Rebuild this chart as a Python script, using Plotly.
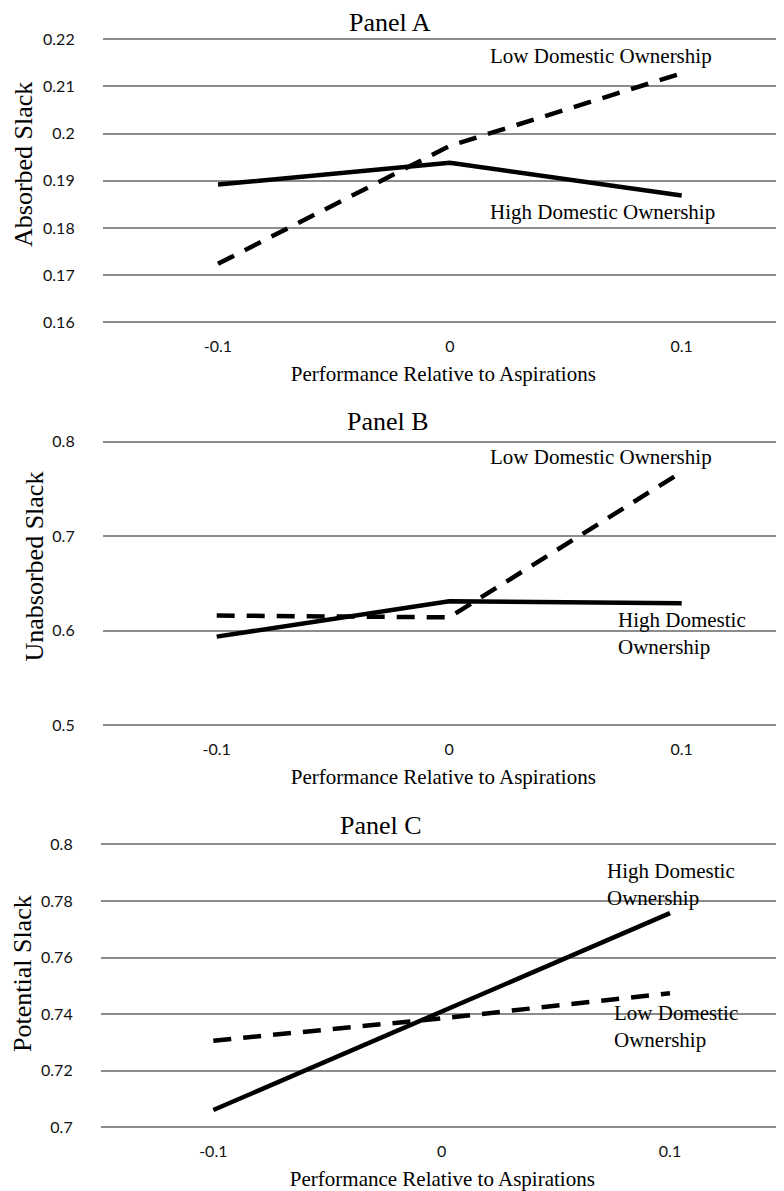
import plotly.graph_objects as go

# The page body has an 8px margin, so the figure is sized to fill the rest of the window
OFF = 8
W, H = 784 - OFF, 1191 - OFF

# ---- data ----
x_vals = [-0.1, 0.0, 0.1]
x_ticktext = ["-0.1", "0", "0.1"]

panel_titles = ["Panel A", "Panel B", "Panel C"]
y_titles = ["Absorbed Slack", "Unabsorbed Slack", "Potential Slack"]
x_title = "Performance Relative to Aspirations"

# Panel A: Absorbed slack
a_high = [0.1892, 0.1938, 0.1869]
a_low = [0.1724, 0.1974, 0.2128]
a_ticks = [0.16, 0.17, 0.18, 0.19, 0.20, 0.21, 0.22]
a_ticktext = ["0.16", "0.17", "0.18", "0.19", "0.2", "0.21", "0.22"]

# Panel B: Unabsorbed slack
b_high = [0.5936, 0.631, 0.629]
b_low = [0.6159, 0.614, 0.768]
b_ticks = [0.5, 0.6, 0.7, 0.8]
b_ticktext = ["0.5", "0.6", "0.7", "0.8"]

# Panel C: Potential slack
c_high = [0.7061, 0.741, 0.7757]
c_low = [0.7306, 0.7385, 0.7474]
c_ticks = [0.70, 0.72, 0.74, 0.76, 0.78, 0.80]
c_ticktext = ["0.7", "0.72", "0.74", "0.76", "0.78", "0.8"]

label_low_one = "Low Domestic Ownership"
label_high_one = "High Domestic Ownership"
label_high_two = "High Domestic<br>Ownership"
label_low_two = "Low Domestic<br>Ownership"

# ---- layout helpers (pixel geometry, in window pixels) ----
SERIF = "Liberation Serif, Times New Roman, serif"
SANS = "Lato, Open Sans, sans-serif"


def ydom(top_px, bot_px, vtop, vbot, pad=3):
    top_px -= OFF
    bot_px -= OFF
    u = (vtop - vbot) / (bot_px - top_px)
    rng = [vbot - pad * u, vtop + pad * u]
    dom = [1 - (bot_px + pad) / H, 1 - (top_px - pad) / H]
    return dom, rng


def xdom(left_px, right_px, x_left_tick_px, x_right_tick_px):
    u = (0.1 - (-0.1)) / (x_right_tick_px - x_left_tick_px)
    rng = [-0.1 - (x_left_tick_px - left_px) * u, 0.1 + (right_px - x_right_tick_px) * u]
    return [(left_px - OFF) / W, min(1.0, (right_px - OFF) / W)], rng


panels = [
    dict(high=a_high, low=a_low, ticks=a_ticks, ticktext=a_ticktext,
         y=ydom(39.3, 322.3, 0.22, 0.16), x=xdom(102.7, 784, 218, 681.7)),
    dict(high=b_high, low=b_low, ticks=b_ticks, ticktext=b_ticktext,
         y=ydom(441.7, 725, 0.8, 0.5), x=xdom(102.7, 784, 216.7, 681.7)),
    dict(high=c_high, low=c_low, ticks=c_ticks, ticktext=c_ticktext,
         y=ydom(844.3, 1127.3, 0.8, 0.7), x=xdom(100.7, 784, 213.3, 670)),
]

fig = go.Figure()
layout = {}
for i, p in enumerate(panels):
    n = "" if i == 0 else str(i + 1)
    xa, ya = "x" + n, "y" + n
    fig.add_trace(go.Scatter(x=x_vals, y=p["high"], mode="lines", xaxis=xa, yaxis=ya,
                             line=dict(color="black", width=4.5), showlegend=False,
                             name="High Domestic Ownership"))
    fig.add_trace(go.Scatter(x=x_vals, y=p["low"], mode="lines", xaxis=xa, yaxis=ya,
                             line=dict(color="black", width=4.5, dash="18px,12px"),
                             showlegend=False, name="Low Domestic Ownership"))
    xd, xr = p["x"]
    yd, yr = p["y"]
    layout["xaxis" + n] = dict(
        domain=xd, range=xr, anchor=ya, tickvals=x_vals, ticktext=x_ticktext,
        showgrid=False, zeroline=False, showline=False, ticks="",
        ticklabelstandoff=10, automargin=False,
        tickfont=dict(family=SANS, size=16, color="#111111"),
        title=dict(text=x_title, font=dict(family=SERIF, size=21, color="black"), standoff=12),
    )
    layout["yaxis" + n] = dict(
        domain=yd, range=yr, anchor=xa, tickvals=p["ticks"], ticktext=p["ticktext"],
        showgrid=True, gridcolor="#8c8c8c", gridwidth=1.5, zeroline=False, showline=False,
        ticks="", ticklabelstandoff=27, automargin=False,
        tickfont=dict(family=SANS, size=16, color="#111111"),
    )

fig.update_layout(**layout)


def px(xp, yp):
    return (xp - OFF) / W, 1 - (yp - OFF) / H


annotations = []


def add_text(text, xp, yp, size, xanchor="center", angle=0):
    x, y = px(xp, yp)
    annotations.append(dict(text=text, x=x, y=y, xref="paper", yref="paper",
                            xanchor=xanchor, yanchor="middle", showarrow=False,
                            textangle=angle, align="left",
                            font=dict(family=SERIF, size=size, color="black")))


# panel titles
add_text(panel_titles[0], 390, 22.5, 26)
add_text(panel_titles[1], 388, 421.7, 26)
add_text(panel_titles[2], 380.7, 825, 26)
# y titles
add_text(y_titles[0], 24, 165, 26, angle=-90)
add_text(y_titles[1], 34, 566.5, 26, angle=-90)
add_text(y_titles[2], 22.5, 973.5, 26, angle=-90)
# line labels
add_text(label_low_one, 601, 56, 21)
add_text(label_high_one, 602.5, 212, 21)
add_text(label_low_one, 601, 456.7, 21)
add_text(label_high_two, 616, 633, 21, xanchor="left")
add_text(label_high_two, 605, 884, 21, xanchor="left")
add_text(label_low_two, 612.3, 1026.5, 21, xanchor="left")

fig.update_layout(
    width=W, height=H, margin=dict(l=0, r=0, t=0, b=0, autoexpand=False),
    paper_bgcolor="white", plot_bgcolor="white",
    annotations=annotations, showlegend=False,
)

fig.write_html("out.html")
